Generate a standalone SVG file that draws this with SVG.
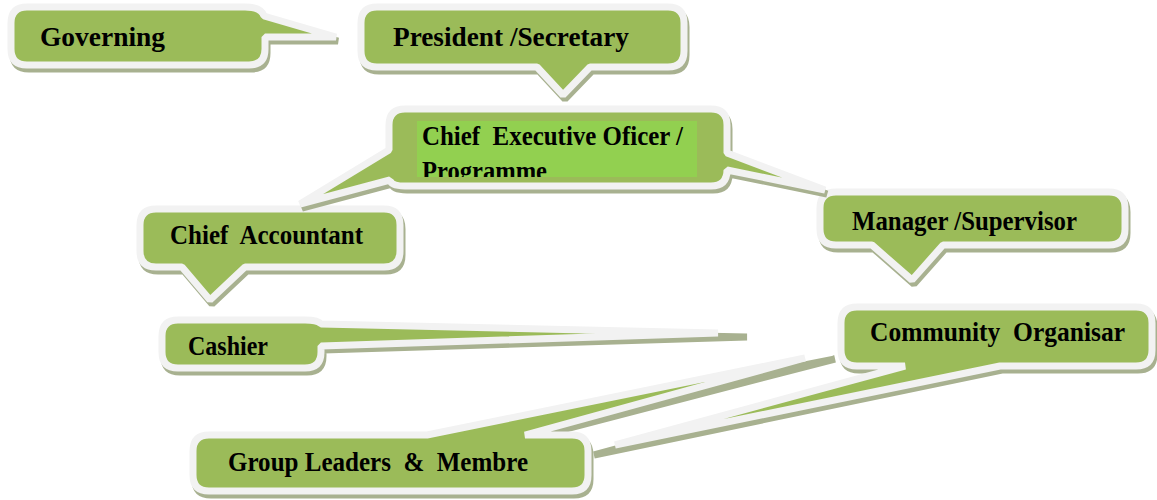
<svg xmlns="http://www.w3.org/2000/svg" xmlns:xlink="http://www.w3.org/1999/xlink" width="1157" height="500" viewBox="0 0 1157 500">
<defs>
<style>
.sh { fill:#a8b190; stroke:#a8b190; stroke-width:7; stroke-linejoin:bevel; }
.bd { fill:#9bbb59; stroke:#f2f2f2; stroke-width:7; stroke-linejoin:bevel; }
.t { font-family:"Liberation Serif","Times New Roman",serif; font-weight:bold; font-size:27px; fill:#000; white-space:pre; }
</style>
<path id="p-gov" d="M 27,7 H 245 Q 261,7 264,16 L 336,37 L 265,37 V 49 Q 265,65 249,65 H 27 Q 11,65 11,49 V 23 Q 11,7 27,7 Z"/>
<path id="p-pres" d="M 377,7 H 668 Q 684,7 684,23 V 51 Q 684,67 668,67 H 590 L 563,95 L 537,67 H 377 Q 361,67 361,51 V 23 Q 361,7 377,7 Z"/>
<path id="p-ceo" d="M 405,109 H 711 Q 727,109 727,125 V 153 L 825,190 L 727,170 Q 727,186 711,186 H 405 Q 391,186 390,180 L 300,204 L 389,150 V 125 Q 389,109 405,109 Z"/>
<path id="p-ca" d="M 156,209 H 384 Q 400,209 400,225 V 251 Q 400,267 384,267 H 245 L 210,300 L 182,267 H 156 Q 140,267 140,251 V 225 Q 140,209 156,209 Z"/>
<path id="p-mgr" d="M 836,192 H 1109 Q 1125,192 1125,208 V 229 Q 1125,245 1109,245 H 943 L 912,280 L 872,245 H 836 Q 820,245 820,229 V 208 Q 820,192 836,192 Z"/>
<path id="p-cash" d="M 178,320 H 305 Q 318,320 321,324 L 718,333 L 321,346 V 352 Q 321,368 305,368 H 178 Q 162,368 162,352 V 336 Q 162,320 178,320 Z"/>
<path id="p-com" d="M 857,307 H 1136 Q 1152,307 1152,323 V 350 Q 1152,366 1136,366 H 1000 L 615,445 L 905,366 H 857 Q 841,366 841,350 V 323 Q 841,307 857,307 Z"/>
<path id="p-gl" d="M 209,435 H 427 L 805,358 L 525,435 H 572 Q 588,435 588,451 V 475 Q 588,491 572,491 H 209 Q 193,491 193,475 V 451 Q 193,435 209,435 Z"/>
<clipPath id="clip-ceo"><rect x="417" y="121" width="280" height="56"/></clipPath>
</defs>

<g id="connectors"></g>

<g id="node-governing">
<use xlink:href="#p-gov" class="sh" transform="translate(2,4)"/>
<use xlink:href="#p-gov" class="bd"/>
<text class="t" x="40" y="46" textLength="125" lengthAdjust="spacingAndGlyphs">Governing</text>
</g>

<g id="node-chief-accountant">
<use xlink:href="#p-ca" class="sh" transform="translate(2,4)"/>
<use xlink:href="#p-ca" class="bd"/>
<text class="t" x="170" y="244" textLength="193" lengthAdjust="spacingAndGlyphs">Chief  Accountant</text>
</g>

<g id="node-manager">
<use xlink:href="#p-mgr" class="sh" transform="translate(2,4)"/>
<use xlink:href="#p-mgr" class="bd"/>
<text class="t" x="852" y="230" textLength="225" lengthAdjust="spacingAndGlyphs">Manager /Supervisor</text>
</g>

<g id="node-cashier">
<path class="sh" d="M 180,324 H 307 Q 320,324 323,328 L 747,337 L 323,350 V 356 Q 323,372 307,372 H 180 Q 164,372 164,356 V 340 Q 164,324 180,324 Z"/>
<use xlink:href="#p-cash" class="bd"/>
<text class="t" x="188" y="355" textLength="80" lengthAdjust="spacingAndGlyphs">Cashier</text>
</g>

<g id="node-group-leaders">
<path class="sh" d="M 211,439 H 429 L 835,359 L 527,439 H 574 Q 590,439 590,455 V 479 Q 590,495 574,495 H 211 Q 195,495 195,479 V 455 Q 195,439 211,439 Z"/>
<use xlink:href="#p-gl" class="bd"/>
<text class="t" x="228" y="471" textLength="300" lengthAdjust="spacingAndGlyphs">Group Leaders  &amp;  Membre</text>
</g>

<g id="node-community">
<path class="sh" d="M 859,311 H 1138 Q 1154,311 1154,327 V 354 Q 1154,370 1138,370 H 1002 L 594,455 L 907,370 H 859 Q 843,370 843,354 V 327 Q 843,311 859,311 Z"/>
<use xlink:href="#p-com" class="bd"/>
<text class="t" x="870" y="341" textLength="255" lengthAdjust="spacingAndGlyphs">Community  Organisar</text>
</g>

<g id="node-ceo">
<use xlink:href="#p-ceo" class="sh" transform="translate(2,4)"/>
<use xlink:href="#p-ceo" class="bd"/>
<rect x="417" y="121" width="280" height="56" fill="#92d050"/>
<g clip-path="url(#clip-ceo)">
<text class="t" x="422" y="145" textLength="261" lengthAdjust="spacingAndGlyphs">Chief  Executive Oficer /</text>
<text class="t" x="422" y="180" textLength="125" lengthAdjust="spacingAndGlyphs">Programme</text>
</g>
</g>

<g id="node-president">
<use xlink:href="#p-pres" class="sh" transform="translate(2,4)"/>
<use xlink:href="#p-pres" class="bd"/>
<text class="t" x="393" y="46" textLength="236" lengthAdjust="spacingAndGlyphs">President /Secretary</text>
</g>
</svg>
